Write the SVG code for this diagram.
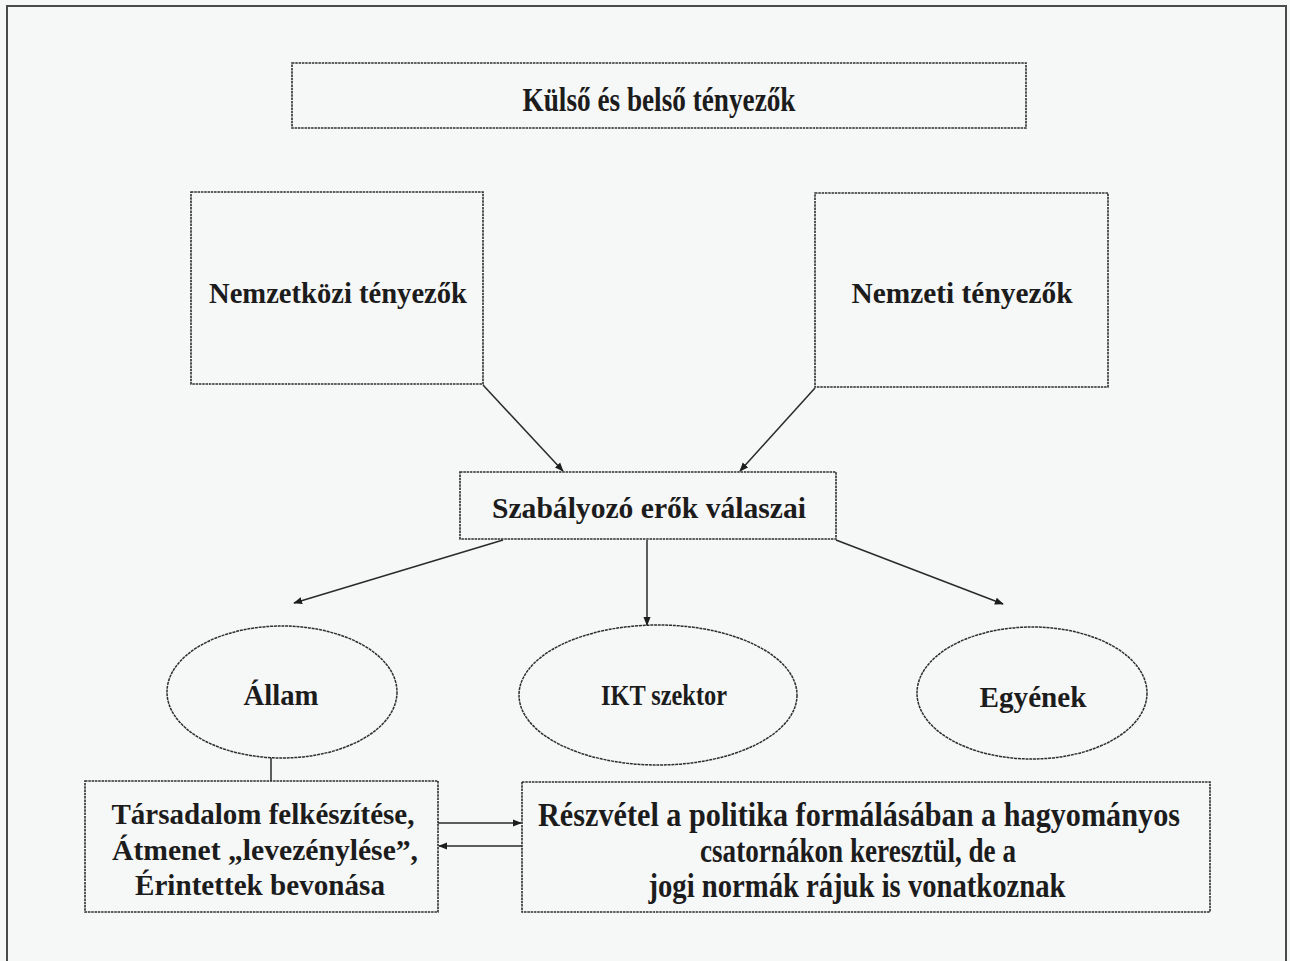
<svg xmlns="http://www.w3.org/2000/svg" width="1290" height="961" viewBox="0 0 1290 961">
<defs>
<style>
.bg{fill:#f6f7f7}
.frame{fill:none;stroke:#4a4a4a;stroke-width:2}
.box{fill:none;stroke:#2e2e2e;stroke-width:1.6;stroke-dasharray:2.5 0.8}
.ell{fill:none;stroke:#2e2e2e;stroke-width:1.5;stroke-dasharray:3 0.8}
.t{font-family:"Liberation Serif","Times New Roman",serif;font-weight:bold;font-size:29px;fill:#1c1c1c;text-anchor:middle}
.c{font-size:33px}
.ln{fill:none;stroke:#2a2a2a;stroke-width:1.5}
</style>
<marker id="ah" viewBox="0 0 10 10" refX="9" refY="5" markerWidth="9" markerHeight="9" markerUnits="userSpaceOnUse" orient="auto">
<path d="M0,1 L10,5 L0,9 Z" fill="#1e1e1e"/>
</marker>
</defs>
<rect class="bg" x="0" y="0" width="1290" height="961"/>
<rect class="frame" x="7" y="6" width="1279" height="970"/>

<g id="kulso">
<rect class="box" x="292" y="63" width="734" height="65"/>
<text class="t c" x="659" y="111" textLength="273" lengthAdjust="spacingAndGlyphs">Külső és belső tényezők</text>
</g>
<g id="nemzetkozi">
<rect class="box" x="191" y="192" width="292" height="192"/>
<text class="t" x="338" y="303" textLength="258" lengthAdjust="spacingAndGlyphs">Nemzetközi tényezők</text>
</g>
<g id="nemzeti">
<rect class="box" x="815" y="193" width="293" height="194"/>
<text class="t" x="962" y="303" textLength="221" lengthAdjust="spacingAndGlyphs">Nemzeti tényezők</text>
</g>
<g id="szabalyozo">
<rect class="box" x="460" y="472" width="376" height="67"/>
<text class="t" x="649" y="518" textLength="314" lengthAdjust="spacingAndGlyphs">Szabályozó erők válaszai</text>
</g>
<g id="allam">
<ellipse class="ell" cx="282" cy="692" rx="115" ry="66"/>
<text class="t" x="281" y="705" textLength="75" lengthAdjust="spacingAndGlyphs">Állam</text>
</g>
<g id="ikt">
<ellipse class="ell" cx="658" cy="695" rx="139" ry="70"/>
<text class="t" x="664" y="705" textLength="126" lengthAdjust="spacingAndGlyphs">IKT szektor</text>
</g>
<g id="egyenek">
<ellipse class="ell" cx="1032" cy="693" rx="115" ry="66"/>
<text class="t" x="1033" y="707" textLength="107" lengthAdjust="spacingAndGlyphs">Egyének</text>
</g>
<g id="tarsadalom">
<rect class="box" x="85" y="781" width="353" height="131"/>
<text class="t" x="263" y="824" textLength="303" lengthAdjust="spacingAndGlyphs">Társadalom felkészítése,</text>
<text class="t" x="265" y="860" textLength="306" lengthAdjust="spacingAndGlyphs">Átmenet „levezénylése”,</text>
<text class="t" x="260" y="895" textLength="250" lengthAdjust="spacingAndGlyphs">Érintettek bevonása</text>
</g>
<g id="reszvetel">
<rect class="box" x="522" y="782" width="688" height="130"/>
<text class="t c" x="859" y="826" textLength="642" lengthAdjust="spacingAndGlyphs">Részvétel a politika formálásában a hagyományos</text>
<text class="t c" x="858" y="862" textLength="316" lengthAdjust="spacingAndGlyphs">csatornákon keresztül, de a</text>
<text class="t c" x="857" y="897" textLength="417" lengthAdjust="spacingAndGlyphs">jogi normák rájuk is vonatkoznak</text>
</g>

<g id="connectors">
<line class="ln" x1="483" y1="385" x2="563" y2="471" marker-end="url(#ah)"/>
<line class="ln" x1="815" y1="388" x2="740" y2="471" marker-end="url(#ah)"/>
<line class="ln" x1="503" y1="540" x2="294" y2="603" marker-end="url(#ah)"/>
<line class="ln" x1="647" y1="540" x2="647" y2="625" marker-end="url(#ah)"/>
<line class="ln" x1="836" y1="540" x2="1003" y2="604" marker-end="url(#ah)"/>
<line class="ln" x1="271" y1="758" x2="271" y2="781"/>
<line class="ln" x1="438" y1="823" x2="521" y2="823" marker-end="url(#ah)"/>
<line class="ln" x1="522" y1="846" x2="439" y2="846" marker-end="url(#ah)"/>
</g>
</svg>
